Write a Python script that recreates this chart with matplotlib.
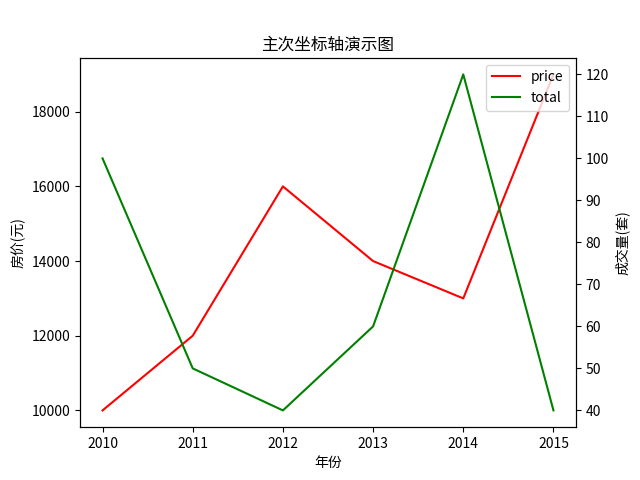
import matplotlib
matplotlib.use("Agg")
from matplotlib import pyplot as plt

plt.rcParams['font.family'] = ['Noto Sans CJK SC', 'DejaVu Sans']
plt.rcParams['axes.unicode_minus'] = False

years = [2010, 2011, 2012, 2013, 2014, 2015]
price = [10000, 12000, 16000, 14000, 13000, 19000]
total = [100, 50, 40, 60, 120, 40]

fig, ax = plt.subplots(figsize=(6.4, 4.8), dpi=100)
line1, = ax.plot(years, price, color='red', label='price')
ax.set_xlabel('年份')
ax.set_ylabel('房价(元)')

ax2 = ax.twinx()
line2, = ax2.plot(years, total, color='green', label='total')
ax2.set_ylabel('成交量(套)')

ax2.legend(handles=[line1, line2], loc='upper right')
ax.set_title('主次坐标轴演示图')

fig.savefig('out.png')
